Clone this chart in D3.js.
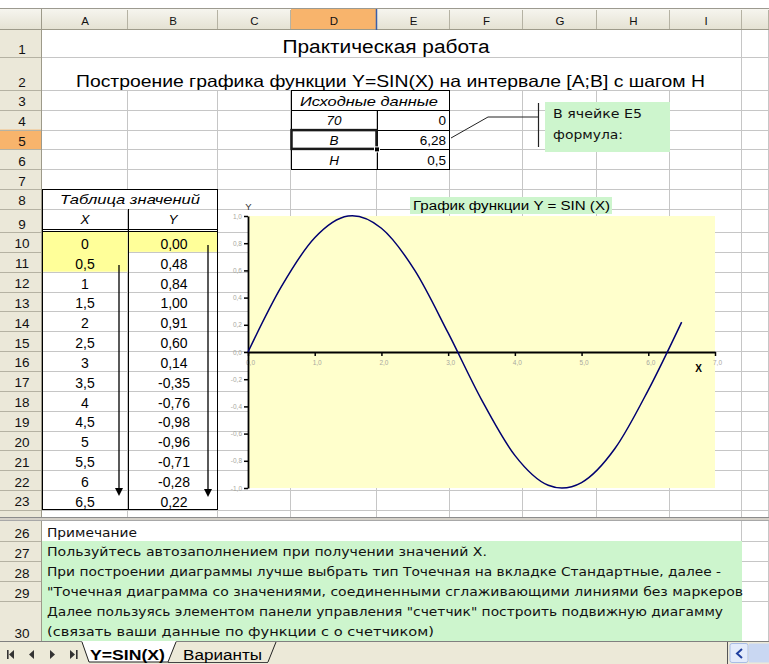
<!DOCTYPE html>
<html><head><meta charset="utf-8">
<script src="https://cdn.jsdelivr.net/npm/d3@7"></script>
<style>html,body{margin:0;padding:0;background:#fff;overflow:hidden}</style>
</head><body><svg id="c" width="769" height="664" xmlns="http://www.w3.org/2000/svg"></svg>
<script>
// ---------- data ----------
const columnLetters = ["A","B","C","D","E","F","G","H","I",""];
const xValues = [0,0.5,1,1.5,2,2.5,3,3.5,4,4.5,5,5.5,6,6.5];
const yValues = [0.00,0.48,0.84,1.00,0.91,0.60,0.14,-0.35,-0.76,-0.98,-0.96,-0.71,-0.28,0.22];
const xTicks = [0,1,2,3,4,5,6,7];
const yTicks = [-1,-0.8,-0.6,-0.4,-0.2,0,0.2,0.4,0.6,0.8,1];
const inputLabels = ["70","B","H"];
const inputValues = ["0","6,28","0,5"];
const titleText = "Практическая работа";
const subtitleText = "Построение графика функции Y=SIN(X) на интервале [A;B] с шагом H";
const inputHeader = "Исходные данные";
const tableHeader = "Таблица значений";
const tableColNames = ["X","Y"];
const calloutLines = ["В ячейке Е5","формула:"];
const chartTitle = "График функции Y = SIN (X)";
const axisNames = ["X","Y"];
const notes = [
  "Примечание",
  "Пользуйтесь автозаполнением при получении значений Х.",
  "При построении диаграммы лучше выбрать тип Точечная на вкладке Стандартные, далее -",
  "\"Точечная диаграмма со значениями, соединенными сглаживающими линиями без маркеров",
  "Далее пользуясь элементом панели управления \"счетчик\" построить подвижную диагамму",
  "(связать ваши данные по функции с о счетчиком)"
];
const sheetTabs = ["Y=SIN(X)","Варианты"];

// ---------- layout ----------
const svg = d3.select("#c");
const W = 769, H = 664;
const colEdges = [42,128,218,291,377,450,523,597,670,742,769];
const rows = [];
rows.push({label:"1", top:30, h:27});
rows.push({label:"2", top:57, h:33});
for (let r=3;r<=8;r++) rows.push({label:String(r), top:90+(r-3)*19.8, h:19.8});
rows.push({label:"9", top:189+19.8, h:232-189-19.8});
for (let r=10;r<=23;r++) rows.push({label:String(r), top:232+(r-10)*19.85, h:19.85});
rows.push({label:"", top:510, h:8});
rows.push({label:"26", top:520, h:21});
rows.push({label:"27", top:541, h:20});
rows.push({label:"28", top:561, h:20});
rows.push({label:"29", top:581, h:20});
rows.push({label:"30", top:601, h:40});
const R = {}; rows.forEach(r=>{ if(r.label) R[r.label]=r; });
const gridColor = "#c6c6c6";
const green = "#cdf5cd";
const arial = "'Liberation Sans', Arial, sans-serif";
const tahoma = "'DejaVu Sans', Verdana, sans-serif";
const locale = d3.formatLocale({decimal:",", thousands:" ", grouping:[3], currency:["",""], minus:"-"});
const f1 = locale.format(".1f"), f2 = locale.format(".2f");
const fx = v => String(v).replace(".", ",");

svg.append("rect").attr("width",W).attr("height",H).attr("fill","#fff");

// ---------- grid ----------
const grid = svg.append("g").attr("stroke",gridColor).attr("stroke-width",1).attr("shape-rendering","crispEdges");
rows.forEach(r=>{
  grid.append("line").attr("x1",42).attr("x2",W).attr("y1",Math.round(r.top+r.h)+0.5).attr("y2",Math.round(r.top+r.h)+0.5);
  colEdges.slice(1).forEach(x=>{
    const merged = (["1","2","26"].includes(r.label) && x<742) ||
                   (r.label==="8" && x===128) || (r.label==="3" && x===377);
    if (merged) return;
    grid.append("line").attr("x1",x-0.5).attr("x2",x-0.5).attr("y1",r.top).attr("y2",r.top+r.h);
  });
});

// fills
const fillCell = (x0,x1,y0,y1,c)=>svg.append("rect").attr("x",x0).attr("y",y0).attr("width",x1-x0).attr("height",y1-y0).attr("fill",c);
fillCell(42,742,541,641,green);
fillCell(42.5,127.5,232,R["11"].top+R["11"].h,"#ffff99");
fillCell(128.5,217.5,232,R["10"].top+R["10"].h,"#ffff99");

// ---------- headers ----------
const hdrGrad = svg.append("defs").append("linearGradient").attr("id","hg").attr("x1",0).attr("x2",0).attr("y1",0).attr("y2",1);
hdrGrad.append("stop").attr("offset",0).attr("stop-color","#f7f6f0");
hdrGrad.append("stop").attr("offset",1).attr("stop-color","#e4e1d2");
svg.append("rect").attr("x",0).attr("y",0).attr("width",W).attr("height",8).attr("fill","#fff");
svg.append("rect").attr("x",0).attr("y",8).attr("width",W).attr("height",22).attr("fill","url(#hg)");
svg.append("rect").attr("x",0).attr("y",30).attr("width",42).attr("height",611).attr("fill","#ebe8d9");
svg.append("line").attr("x1",0).attr("x2",W).attr("y1",8.5).attr("y2",8.5).attr("stroke","#9c9a90");
svg.append("rect").attr("x",291).attr("y",9).attr("width",86).attr("height",21).attr("fill","#f8b46c");
svg.append("rect").attr("x",0).attr("y",R["5"].top).attr("width",42).attr("height",R["5"].h).attr("fill","#f8b46c");
const hl = svg.append("g").attr("stroke","#b5b2a3").attr("shape-rendering","crispEdges");
colEdges.forEach(x=>hl.append("line").attr("x1",x-0.5).attr("x2",x-0.5).attr("y1",10).attr("y2",29));
hl.append("line").attr("x1",0).attr("x2",W).attr("y1",29.5).attr("y2",29.5).attr("stroke","#9d9a8a");
rows.forEach(r=>hl.append("line").attr("x1",0).attr("x2",42).attr("y1",Math.round(r.top+r.h)+0.5).attr("y2",Math.round(r.top+r.h)+0.5));
hl.append("line").attr("x1",41.5).attr("x2",41.5).attr("y1",9).attr("y2",641).attr("stroke","#9d9a8a");
svg.append("line").attr("x1",376.5).attr("x2",376.5).attr("y1",9).attr("y2",30).attr("stroke","#3a5ea8").attr("stroke-width",1.5);
// split bar
svg.append("rect").attr("x",0).attr("y",517).attr("width",W).attr("height",3).attr("fill","#d4d0c8");
svg.append("line").attr("x1",0).attr("x2",W).attr("y1",517.5).attr("y2",517.5).attr("stroke","#8c8c8c");
svg.append("line").attr("x1",0).attr("x2",W).attr("y1",520.5).attr("y2",520.5).attr("stroke","#a8a8a8");

svg.append("g").selectAll("text").data(columnLetters).join("text")
  .attr("x",(d,i)=>(colEdges[i]+colEdges[i+1])/2).attr("y",25)
  .attr("text-anchor","middle").attr("font-family",arial).attr("font-size",11.5).attr("fill","#111").text(d=>d);
svg.append("g").selectAll("text").data(rows.filter(r=>r.label)).join("text")
  .attr("x",22).attr("y",r=>r.top+r.h-3.5)
  .attr("text-anchor","middle").attr("font-family",arial).attr("font-size",13.5).attr("fill","#111").text(r=>r.label);

// ---------- titles ----------
svg.append("text").attr("x",386).attr("y",53).attr("text-anchor","middle").attr("font-family",arial)
  .attr("font-size",18).attr("textLength",207).attr("lengthAdjust","spacingAndGlyphs").text(titleText);
svg.append("text").attr("x",390.5).attr("y",87).attr("text-anchor","middle").attr("font-family",arial)
  .attr("font-size",16.5).attr("textLength",629).attr("lengthAdjust","spacingAndGlyphs").text(subtitleText);

// ---------- input table ----------
const blk = svg.append("g").attr("stroke","#000").attr("fill","none").attr("shape-rendering","crispEdges");
blk.append("rect").attr("x",291.5).attr("y",90.5).attr("width",158).attr("height",79);
[R["4"],R["5"],R["6"]].forEach(r=>blk.append("line").attr("x1",291).attr("x2",450).attr("y1",Math.round(r.top)+0.5).attr("y2",Math.round(r.top)+0.5));
blk.append("line").attr("x1",377.5).attr("x2",377.5).attr("y1",110).attr("y2",170);
svg.append("text").attr("x",369).attr("y",106).attr("text-anchor","middle").attr("font-family",arial).attr("font-style","italic")
  .attr("font-size",13).attr("textLength",138).attr("lengthAdjust","spacingAndGlyphs").text(inputHeader);
["4","5","6"].forEach((k,i)=>{
  svg.append("text").attr("x",334).attr("y",R[k].top+15.5).attr("text-anchor","middle").attr("font-family",arial)
    .attr("font-style","italic").attr("font-size",13.5).text(inputLabels[i]);
  svg.append("text").attr("x",446).attr("y",R[k].top+15.5).attr("text-anchor","end").attr("font-family",arial)
    .attr("font-size",13.5).text(inputValues[i]);
});
svg.append("rect").attr("x",291.5).attr("y",R["5"].top+0.5).attr("width",85).attr("height",R["5"].h-1)
  .attr("fill","none").attr("stroke","#1a1a1a").attr("stroke-width",2.5);
svg.append("rect").attr("x",374.5).attr("y",R["5"].top+R["5"].h-2.5).attr("width",5).attr("height",5)
  .attr("fill","#000").attr("stroke","#fff").attr("stroke-width",1);

// callout
svg.append("rect").attr("x",545).attr("y",102).attr("width",125).attr("height",50).attr("fill",green);
svg.append("polyline").attr("points","451,138 488,117 538,117").attr("fill","none").attr("stroke","#222").attr("stroke-width",1);
svg.append("line").attr("x1",538.5).attr("x2",538.5).attr("y1",103).attr("y2",147).attr("stroke","#222").attr("stroke-width",1.2);
calloutLines.forEach((t,i)=>svg.append("text").attr("x",553).attr("y",118+i*20.5).attr("font-family",tahoma)
  .attr("font-size",11.5).attr("textLength",i?70:89).attr("lengthAdjust","spacingAndGlyphs").attr("fill","#111").text(t));

// ---------- values table ----------
const tb = svg.append("g").attr("stroke","#000").attr("fill","none").attr("shape-rendering","crispEdges");
tb.append("rect").attr("x",42.5).attr("y",189.5).attr("width",175).attr("height",320);
tb.append("line").attr("x1",128.5).attr("x2",128.5).attr("y1",209).attr("y2",510);
tb.append("line").attr("x1",42).attr("x2",218).attr("y1",229.5).attr("y2",229.5);
tb.append("line").attr("x1",42).attr("x2",218).attr("y1",231.5).attr("y2",231.5);
svg.append("text").attr("x",130).attr("y",204).attr("text-anchor","middle").attr("font-family",arial).attr("font-style","italic")
  .attr("font-size",13).attr("textLength",140).attr("lengthAdjust","spacingAndGlyphs").text(tableHeader);
tableColNames.forEach((t,i)=>svg.append("text").attr("x",i?173:85).attr("y",224).attr("text-anchor","middle")
  .attr("font-family",arial).attr("font-style","italic").attr("font-size",13.5).text(t));
const tblRows = xValues.map((xv,i)=>({x:xv,y:yValues[i],row:R[String(10+i)]}));
svg.append("g").selectAll("text").data(tblRows).join("text").attr("x",85).attr("y",d=>d.row.top+16.8)
  .attr("text-anchor","middle").attr("font-family",arial).attr("font-size",14).text(d=>fx(d.x));
svg.append("g").selectAll("text").data(tblRows).join("text").attr("x",174).attr("y",d=>d.row.top+16.8)
  .attr("text-anchor","middle").attr("font-family",arial).attr("font-size",14).text(d=>f2(d.y));
[[119,265,496],[208,245,497]].forEach(([ax,y0,y1])=>{
  svg.append("line").attr("x1",ax).attr("x2",ax).attr("y1",y0).attr("y2",y1-6).attr("stroke","#000").attr("stroke-width",1.3);
  svg.append("path").attr("d",`M${ax-4},${y1-8}L${ax+4},${y1-8}L${ax},${y1}Z`).attr("fill","#000");
});

// ---------- chart ----------
const x = d3.scaleLinear().domain([0,7]).range([248,715]);
const y = d3.scaleLinear().domain([-1,1]).range([488,216]);
svg.append("rect").attr("x",x(0)).attr("y",y(1)).attr("width",x(7)-x(0)).attr("height",y(-1)-y(1)).attr("fill","#ffffcc");
svg.append("rect").attr("x",410).attr("y",197).attr("width",202).attr("height",17).attr("fill",green);
svg.append("text").attr("x",413).attr("y",209.5).attr("font-family",arial).attr("font-size",12)
  .attr("textLength",197).attr("lengthAdjust","spacingAndGlyphs").text(chartTitle);

const gx = svg.append("g").attr("transform",`translate(0,${y(0)})`)
  .call(d3.axisBottom(x).tickValues(xTicks).tickSize(4).tickSizeOuter(0).tickFormat(f1));
const gy = svg.append("g").attr("transform",`translate(${x(0)},0)`)
  .call(d3.axisLeft(y).tickValues(yTicks).tickSize(4).tickSizeOuter(0).tickFormat(f1));
[gx,gy].forEach(g=>{
  g.select(".domain").attr("stroke","#000").attr("stroke-width",1.8);
  g.selectAll(".tick line").attr("stroke","#000").attr("stroke-width",1.5);
  g.selectAll(".tick text").attr("font-family",arial).attr("font-size",6.5).attr("fill","#a8a8a0");
});
gx.selectAll(".tick text").attr("y",13).attr("dy",0).attr("dx",2);
gy.selectAll(".tick text").attr("x",-6);

const line = d3.line().x(d=>x(d[0])).y(d=>y(d[1])).curve(d3.curveCardinal.tension(0));
svg.append("path").datum(xValues.map((v,i)=>[v,yValues[i]])).attr("d",line)
  .attr("fill","none").attr("stroke","#000070").attr("stroke-width",1.5);
svg.append("text").attr("x",698.5).attr("y",372).attr("text-anchor","middle").attr("font-family",arial)
  .attr("font-weight","bold").attr("font-size",10).text(axisNames[0]);
svg.append("text").attr("x",248.5).attr("y",210).attr("text-anchor","middle").attr("font-family",arial)
  .attr("font-size",9.5).attr("fill","#333").text(axisNames[1]);

// ---------- notes ----------
const noteLayout = [[537,90],[556,440],[576,674],[596,696],[616,676],[636,387]];
notes.forEach((t,i)=>svg.append("text").attr("x",47).attr("y",noteLayout[i][0]).attr("font-family",tahoma)
  .attr("font-size",11.5).attr("fill","#111").attr("textLength",noteLayout[i][1]).attr("lengthAdjust","spacingAndGlyphs").text(t));

// ---------- sheet tabs ----------
svg.append("rect").attr("x",0).attr("y",641).attr("width",W).attr("height",23).attr("fill","#ece9d8");
svg.append("line").attr("x1",0).attr("x2",W).attr("y1",641.5).attr("y2",641.5).attr("stroke","#808080");
svg.append("path").attr("d","M268,662L276,642").attr("stroke","#222").attr("fill","none");
svg.append("line").attr("x1",168).attr("x2",268).attr("y1",662.5).attr("y2",662.5).attr("stroke","#444");
svg.append("path").attr("d","M82,641L89,662L168,662L176,641Z").attr("fill","#fff");
svg.append("path").attr("d","M82,642L89,662L168,662L176,642").attr("stroke","#222").attr("fill","none");
svg.append("text").attr("x",90).attr("y",660).attr("font-family",arial).attr("font-weight","bold").attr("font-size",15.5)
  .attr("textLength",75).attr("lengthAdjust","spacingAndGlyphs").text(sheetTabs[0]);
svg.append("text").attr("x",183).attr("y",660).attr("font-family",arial).attr("font-size",15.5)
  .attr("textLength",79).attr("lengthAdjust","spacingAndGlyphs").text(sheetTabs[1]);
const nav = svg.append("g").attr("fill","#333");
nav.append("rect").attr("x",7).attr("y",650).attr("width",1.6).attr("height",9);
nav.append("path").attr("d","M9,654.5L14,650L14,659Z");
nav.append("path").attr("d","M29,654.5L34,650L34,659Z");
nav.append("path").attr("d","M55,654.5L50,650L50,659Z");
nav.append("path").attr("d","M75,654.5L70,650L70,659Z");
nav.append("rect").attr("x",76).attr("y",650).attr("width",1.6).attr("height",9);
svg.append("line").attr("x1",727.5).attr("x2",727.5).attr("y1",642).attr("y2",664).attr("stroke","#555");
svg.append("rect").attr("x",730).attr("y",643.5).attr("width",18).attr("height",19).attr("rx",2).attr("fill","#e3ebfb").attr("stroke","#a9bde6");
svg.append("path").attr("d","M742,649L737,653.5L742,658").attr("fill","none").attr("stroke","#1f3f9f").attr("stroke-width",2);
svg.append("rect").attr("x",749).attr("y",643.5).attr("width",20).attr("height",19).attr("fill","#c9d7f2");
</script></body></html>
